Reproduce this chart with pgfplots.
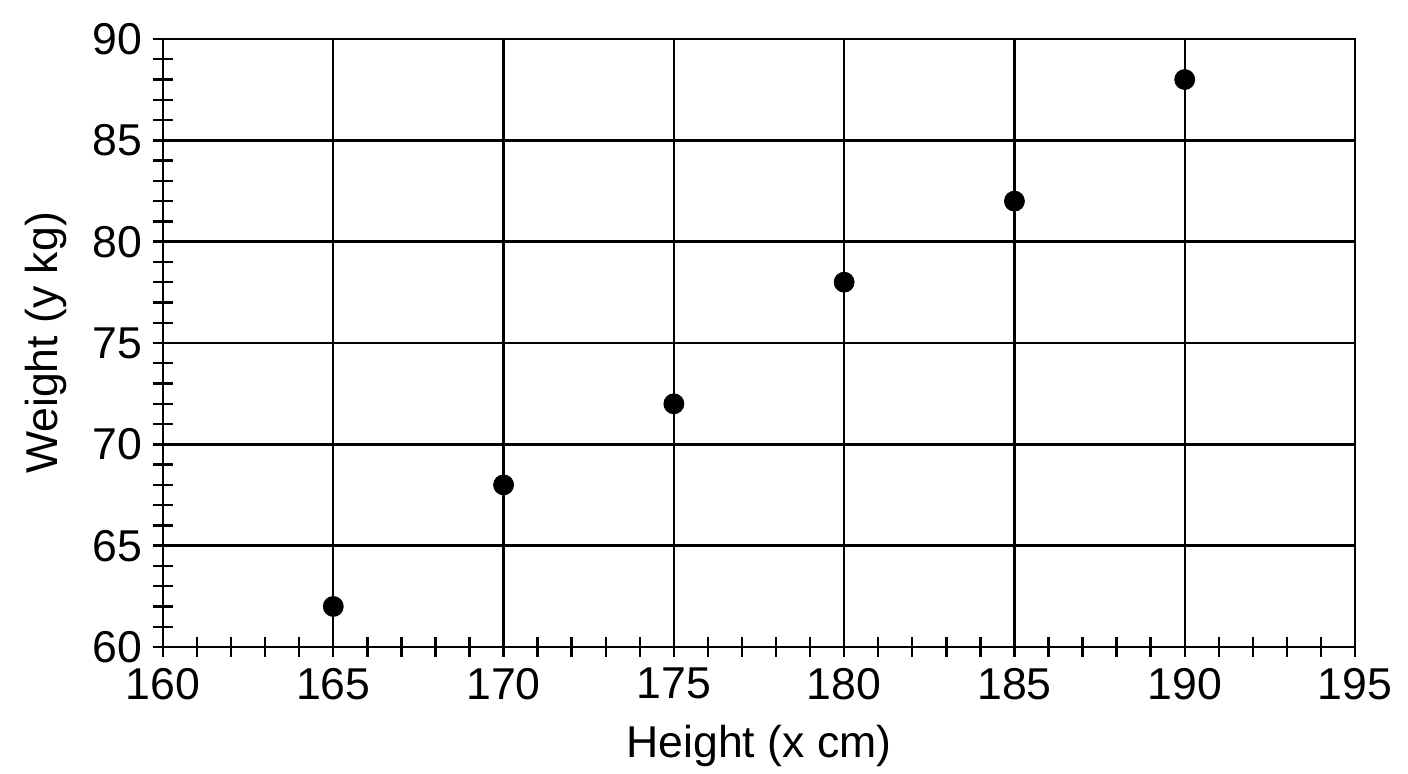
\documentclass[border=0pt]{standalone}
\usepackage{fontspec}
\setmainfont{Liberation Sans}
\usepackage{pgfplots}
\pgfplotsset{compat=1.18}

\begin{document}
\begin{tikzpicture}
\begin{axis}[
  at={(0,0)}, anchor=south west,
  scale only axis,
  width=596pt, height=304pt,
  xmin=160, xmax=195, ymin=60, ymax=90,
  xtick={160,165,...,195}, ytick={60,65,...,90},
  minor tick num=4,
  xtick pos=bottom, ytick pos=left,
  tick align=center,
  major tick length=10pt, minor tick length=10pt,
  grid=major,
  major grid style={line width=1.2pt, black},
  axis line style={line width=1.2pt},
  every tick/.style={line width=1.2pt, black},
  every minor tick/.style={line width=1.2pt, black},
  /pgf/number format/assume math mode=true,
  /pgf/number format/1000 sep={},
  tick label style={font=\fontsize{22.3}{26}\selectfont},
  label style={font=\fontsize{22.3}{26}\selectfont},
  xticklabel style={yshift=-2pt},
  yticklabel style={xshift=-2pt},
  xlabel={Height (x cm)},
  ylabel={Weight (y kg)},
  xlabel style={yshift=-6pt},
  ylabel style={yshift=6pt},
]
\addplot[only marks, mark=*, mark size=5pt, black] coordinates {
  (165,62) (170,68) (175,72) (180,78) (185,82) (190,88)
};
\end{axis}
\path (-81.5pt,-60.5pt) rectangle (622.5pt,323.5pt);
\end{tikzpicture}
\end{document}
